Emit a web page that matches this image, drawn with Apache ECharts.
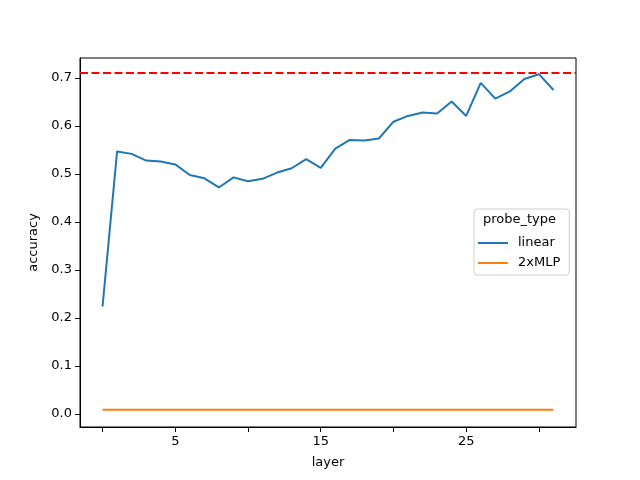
<!DOCTYPE html>
<html>
<head>
<meta charset="utf-8">
<script src="https://cdn.jsdelivr.net/npm/echarts@6/dist/echarts.min.js"></script>
<style>
    html, body { margin: 0; padding: 0; background: #fff; }
    #main { width: 640px; height: 480px; }
</style>
</head>
<body>
<div id="main"></div>
<script>
var layers = [];
for (var i = 0; i < 32; i++) layers.push(i);

var linearAcc = [0.224, 0.547, 0.542, 0.528, 0.526, 0.520, 0.498, 0.491, 0.472, 0.493,
    0.485, 0.490, 0.503, 0.512, 0.531, 0.513, 0.553, 0.571, 0.570, 0.574,
    0.609, 0.621, 0.628, 0.626, 0.651, 0.621, 0.690, 0.657, 0.672, 0.698,
    0.708, 0.675];
var mlpAcc = [0.009, 0.009, 0.009, 0.009, 0.009, 0.009, 0.009, 0.009, 0.009, 0.009,
    0.009, 0.009, 0.009, 0.009, 0.009, 0.009, 0.009, 0.009, 0.009, 0.009,
    0.009, 0.009, 0.009, 0.009, 0.009, 0.009, 0.009, 0.009, 0.009, 0.009,
    0.009, 0.009];
var bestAcc = 0.709;

var xTicks = [0, 5, 10, 15, 20, 25, 30];
var xLabels = [5, 15, 25];
var yTicks = [0, 0.1, 0.2, 0.3, 0.4, 0.5, 0.6, 0.7];
var seriesNames = ['linear', '2xMLP'];

function pairs(xs, ys) {
    var out = [];
    for (var i in xs) out.push([xs[i], ys[i]]);
    return out;
}

var font = 'DejaVu Sans';
var option = {
    animation: false,
    backgroundColor: '#fff',
    grid: {
        left: 80, right: 64, top: 58, bottom: 53,
        show: true, borderColor: '#000', borderWidth: 1
    },
    xAxis: {
        type: 'value',
        min: -1.55, max: 32.55,
        name: 'layer', nameLocation: 'middle', nameGap: 29,
        nameTextStyle: { fontFamily: font, fontSize: 13, color: '#000' },
        axisLine: { show: true, onZero: false, lineStyle: { color: '#000' } },
        splitLine: { show: false },
        axisTick: { show: true, length: 5, customValues: xTicks, lineStyle: { color: '#000' } },
        axisLabel: { customValues: xLabels, fontFamily: font, fontSize: 13, color: '#000', margin: 8 }
    },
    yAxis: {
        type: 'value',
        min: -0.027, max: 0.7417,
        name: 'accuracy', nameLocation: 'middle', nameGap: 38,
        nameTextStyle: { fontFamily: font, fontSize: 13, color: '#000' },
        axisLine: { show: true, onZero: false, lineStyle: { color: '#000' } },
        splitLine: { show: false },
        axisTick: { show: true, length: 5, customValues: yTicks, lineStyle: { color: '#000' } },
        axisLabel: {
            customValues: yTicks, fontFamily: font, fontSize: 13, color: '#000', margin: 8,
            formatter: function (v) { return v.toFixed(1); }
        }
    },
    legend: {
        orient: 'vertical',
        left: 474, top: 209,
        padding: [27, 9, 5, 4],
        itemGap: 6,
        icon: 'rect',
        itemWidth: 30, itemHeight: 2,
        borderColor: '#d0d0d0', borderWidth: 1, borderRadius: 3,
        backgroundColor: 'rgba(255,255,255,0.8)',
        textStyle: { fontFamily: font, fontSize: 13, color: '#000', lineHeight: 14, padding: [0, 0, 0, 5] },
        data: seriesNames
    },
    graphic: [{
        type: 'text',
        left: 483, top: 213,
        style: { text: 'probe_type', fontFamily: font, fontSize: 13, fill: '#000' },
        z: 100
    }],
    series: [
        {
            name: seriesNames[0], type: 'line', showSymbol: false, symbol: 'none',
            data: pairs(layers, linearAcc),
            lineStyle: { color: '#1f77b4', width: 2 }, itemStyle: { color: '#1f77b4' },
            markLine: {
                silent: true, symbol: 'none', label: { show: false },
                lineStyle: { color: '#ff0000', type: [8, 3.5], width: 2 },
                data: [{ yAxis: bestAcc }]
            }
        },
        {
            name: seriesNames[1], type: 'line', showSymbol: false, symbol: 'none',
            data: pairs(layers, mlpAcc),
            lineStyle: { color: '#ff7f0e', width: 2 }, itemStyle: { color: '#ff7f0e' }
        }
    ]
};

echarts.init(document.getElementById('main')).setOption(option);
</script>
</body>
</html>
